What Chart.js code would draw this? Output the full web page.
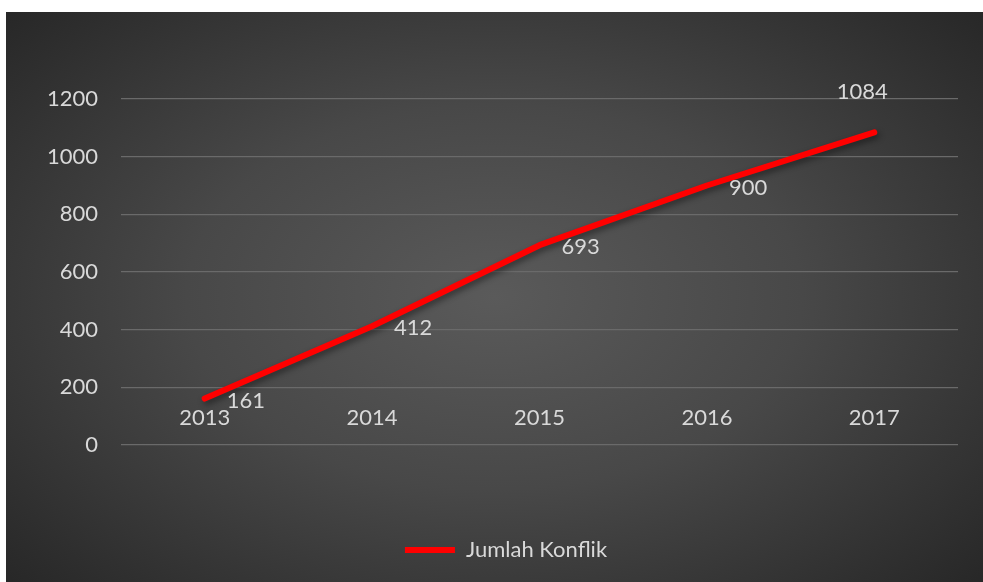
<!DOCTYPE html>
<html>
<head>
<meta charset="utf-8">
<script src="https://cdn.jsdelivr.net/npm/chart.js@4.4.0/dist/chart.umd.min.js"></script>
<style>
  html, body { margin: 0; padding: 0; background: #ffffff; }
  #wrap {
    position: absolute; left: 6px; top: 12px; width: 977px; height: 570px;
    background: radial-gradient(ellipse 70% 75% at 50% 50%, #5a5a5a 0%, #484848 45%, #2f2f2f 85%, #262626 100%);
  }
  canvas { display: block; }
</style>
</head>
<body>
<div id="wrap"><canvas id="c" width="977" height="570"></canvas></div>
<script>
const categories = ['2013', '2014', '2015', '2016', '2017'];
const seriesName = 'Jumlah Konflik';
const values = [161, 412, 693, 900, 1084];
const yTicks = [0, 200, 400, 600, 800, 1000, 1200];

const textColor = '#d9d9d9';
const fontFamily = 'Lato, "Open Sans", sans-serif';

const labelPlugin = {
  id: 'pointLabels',
  afterDatasetsDraw(chart) {
    const ctx = chart.ctx;
    const meta = chart.getDatasetMeta(0);
    ctx.save();
    ctx.font = '22px ' + fontFamily;
    ctx.fillStyle = textColor;
    ctx.textBaseline = 'middle';
    meta.data.forEach((pt, i) => {
      const v = chart.data.datasets[0].data[i];
      if (i === meta.data.length - 1) {
        ctx.textAlign = 'center';
        ctx.fillText(String(v), pt.x - 12, pt.y - 41);
      } else {
        ctx.textAlign = 'left';
        ctx.fillText(String(v), pt.x + 22, pt.y + 2);
      }
    });
    ctx.restore();
  }
};

const shadowPlugin = {
  id: 'lineShadow',
  beforeDatasetDraw(chart) {
    const ctx = chart.ctx;
    ctx.save();
    ctx.shadowColor = 'rgba(0,0,0,0.45)';
    ctx.shadowBlur = 6;
    ctx.shadowOffsetX = 2;
    ctx.shadowOffsetY = 3;
  },
  afterDatasetDraw(chart) {
    chart.ctx.restore();
  }
};

const legendShift = {
  id: 'legendShift',
  afterLayout(chart) {
    if (chart.legend) {
      chart.legend.left += 24;
      chart.legend.right += 24;
    }
  }
};

new Chart(document.getElementById('c'), {
  type: 'line',
  data: {
    labels: categories,
    datasets: [{
      label: seriesName,
      data: values,
      borderColor: '#ff0000',
      backgroundColor: '#ff0000',
      borderWidth: 6,
      borderCapStyle: 'round',
      borderJoinStyle: 'round',
      pointRadius: 0,
      pointHoverRadius: 0,
      tension: 0,
      fill: false
    }]
  },
  options: {
    responsive: false,
    animation: false,
    layout: { padding: { top: 87, right: 25, bottom: 11, left: 0 } },
    scales: {
      x: {
        type: 'category',
        offset: true,
        position: { y: 140 },
        grid: { display: false, drawTicks: false },
        border: { display: false },
        ticks: { color: textColor, font: { family: fontFamily, size: 22 }, padding: 0, maxRotation: 0 }
      },
      y: {
        min: 0,
        max: 1200,
        afterBuildTicks: (s) => { s.ticks = yTicks.map(v => ({ value: v })); },
        afterFit: (s) => { s.width = 115; },
        grid: { color: '#6a6a6a', lineWidth: 1.2, drawTicks: false },
        border: { display: false },
        ticks: { color: textColor, font: { family: fontFamily, size: 22 }, padding: 23, callback: (v) => String(v) }
      }
    },
    plugins: {
      legend: {
        position: 'bottom',
        title: { display: true, text: '', font: { size: 10, lineHeight: 1 }, padding: { top: 74, bottom: 0 } },
        labels: {
          color: textColor,
          font: { family: fontFamily, size: 22 },
          usePointStyle: true,
          pointStyle: 'line',
          pointStyleWidth: 50,
          padding: 10
        }
      },
      tooltip: { enabled: false }
    }
  },
  plugins: [shadowPlugin, labelPlugin, legendShift]
});
</script>
</body>
</html>
